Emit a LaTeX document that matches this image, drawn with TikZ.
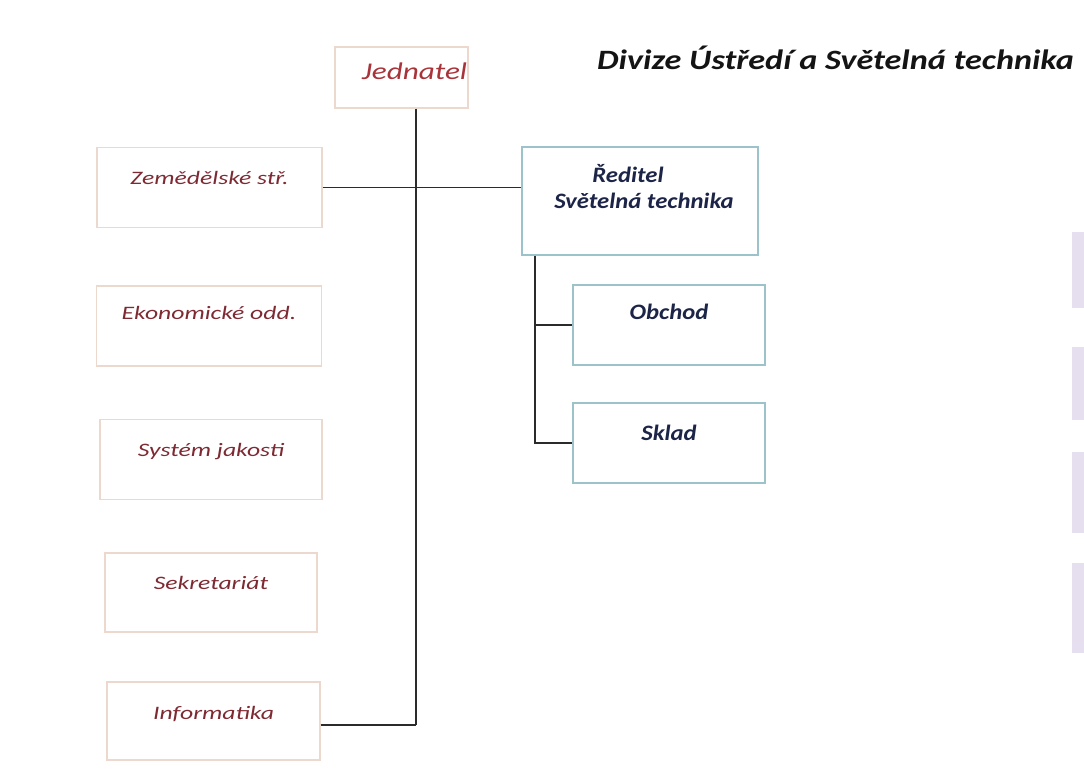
\documentclass[tikz,border=0pt]{standalone}
\usepackage{fontspec}
\setmainfont{Carlito}
\newfontfamily\lfont[FakeStretch=1.35]{Carlito}
\newfontfamily\jfont[FakeStretch=1.3]{Carlito}
\newfontfamily\rfont[FakeStretch=1.12]{Carlito}
\newfontfamily\tfont[FakeStretch=1.22]{Carlito}
\usetikzlibrary{calc,backgrounds}
\definecolor{peachb}{HTML}{ECD8CD}
\definecolor{blueb}{HTML}{9CC3CC}
\definecolor{redtxt}{HTML}{7E2A33}
\definecolor{jedtxt}{HTML}{A8343A}
\definecolor{navytxt}{HTML}{1C2547}
\definecolor{linec}{HTML}{2B2B2B}
\definecolor{peachglow}{HTML}{FBEBE0}
\definecolor{blueglow}{HTML}{E6F3F7}
\definecolor{lav}{HTML}{E6DFEF}
\newcommand{\bt}[2][4pt]{\raisebox{#1}[0pt][0pt]{#2}}
\begin{document}
\begin{tikzpicture}[x=1pt,y=-1pt,
  lbox/.style={draw=peachb, line width=1.2pt, fill=white, minimum width=225pt,
    minimum height=80pt, inner sep=0pt, font=\lfont\fontsize{19}{22}\selectfont\itshape, text=redtxt},
  rbox/.style={draw=blueb, line width=1.2pt, fill=white, inner sep=0pt,
    font=\rfont\fontsize{22}{25}\selectfont\itshape\bfseries, text=navytxt},
  conn/.style={draw=linec, line width=1.4pt},
  glowp/.style={fill=peachglow},
  glowb/.style={fill=blueglow}]
\useasboundingbox (0,0) rectangle (1084,778);
\fill[white] (0,0) rectangle (1084,778);

% title
\node[anchor=west, font=\tfont\fontsize{28}{30}\selectfont\itshape\bfseries, text=black!92, inner sep=0pt] (title) at (597,58) {Divize Ústředí a Světelná technika};

% left boxes
\node[lbox, minimum width=133pt, minimum height=61pt, text=jedtxt, font=\jfont\fontsize{24}{26}\selectfont\itshape] (jed) at (401.5,77.5) {\bt[-2pt]{\hspace*{26pt}Jednatel}};
\node[lbox] (zem) at (209.5,187.5) {\bt[3pt]{Zemědělské stř.}};
\node[lbox] (eko) at (209,326) {\bt[7pt]{Ekonomické odd.}};
\node[lbox, minimum width=222pt] (sys) at (211,459.5) {\bt[3pt]{Systém jakosti}};
\node[lbox, minimum width=212pt, minimum height=79pt] (sek) at (211,592.5) {\bt[3pt]{Sekretariát}};
\node[lbox, minimum width=213pt, minimum height=78pt] (inf) at (213.5,721) {\bt[2pt]{Informatika}};

% right boxes
\node[rbox, minimum width=236pt, minimum height=108pt] (red) at (640,201) {\bt[6pt]{\hspace*{8pt}\begin{tabular}[c]{@{}c@{}}Ředitel\hspace*{32pt}\\[1pt]Světelná technika\end{tabular}}};
\node[rbox, minimum width=192pt, minimum height=80pt] (obc) at (669,325) {\bt[6pt]{Obchod}};
\node[rbox, minimum width=192pt, minimum height=80pt] (skl) at (669,443) {\bt[3pt]{Sklad}};

% faint glows behind boxes
\begin{scope}[on background layer]
  \foreach \n in {zem,eko,sys,sek,inf}{
    \fill[glowp] ($(\n.north west)+(-10,-12)$) rectangle ($(\n.north east)+(-25,10)$);
  }
  \foreach \n in {red,obc,skl}{
    \fill[glowb] ($(\n.north west)+(-8,-10)$) rectangle ($(\n.north east)+(-20,10)$);
  }
\end{scope}

% faint cut-off boxes at the right edge
\fill[lav] (1072,232) rectangle (1084,308);
\fill[lav] (1072,347) rectangle (1084,420);
\fill[lav] (1072,452) rectangle (1084,533);
\fill[lav] (1072,563) rectangle (1084,653);

% connectors
\coordinate (tb) at (416,725);
\coordinate (sb) at (535,443);
\draw[conn] (jed.south -| tb) -- (tb);
\draw[conn] (zem.east) -- (red.west |- zem.east);
\draw[conn] ($(eko.east)+(0,7)$) -- ($(eko.east)+(0,7)$ -| tb);
\draw[conn] ($(sys.east)+(0,-2.5)$) -- ($(sys.east)+(0,-2.5)$ -| tb);
\draw[conn] ($(sek.east)+(0,8.5)$) -- ($(sek.east)+(0,8.5)$ -| tb);
\draw[conn] (inf.east |- tb) -- (tb);
\draw[conn] (red.south -| sb) -- (sb) -- (skl.west |- sb);
\draw[conn] (obc.west) -- (obc.west -| sb);
\end{tikzpicture}
\end{document}
